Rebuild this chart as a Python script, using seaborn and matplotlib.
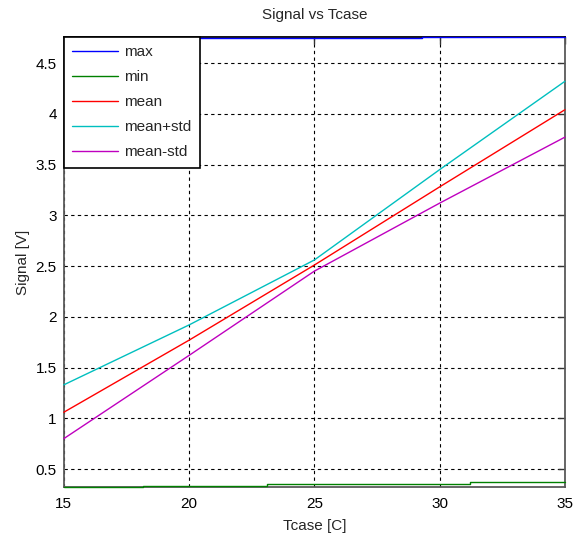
import matplotlib
matplotlib.use("Agg")
import matplotlib.pyplot as plt
import seaborn as sns
import pandas as pd
from matplotlib.ticker import FormatStrFormatter, MultipleLocator

# ---- data ----
tcase = [15, 20, 25, 30, 35]
mean_vals = [1.06, 1.77, 2.51, 3.28, 4.04]
mean_plus_std = [1.33, 1.92, 2.56, 3.45, 4.32]
mean_minus_std = [0.80, 1.62, 2.45, 3.12, 3.77]

tcase_max = [15, 29.3, 29.3, 35]
max_vals = [4.748, 4.748, 4.756, 4.756]

tcase_min = [15, 18.15, 18.15, 23.1, 23.1, 31.2, 31.2, 35]
min_vals = [0.323, 0.323, 0.329, 0.329, 0.349, 0.349, 0.369, 0.369]

series_names = ["max", "min", "mean", "mean+std", "mean-std"]
colors = ["#0000ff", "#008000", "#ff0000", "#00bfbf", "#bf00bf"]

frames = [
    pd.DataFrame({"Tcase": tcase_max, "Signal": max_vals, "series": "max"}),
    pd.DataFrame({"Tcase": tcase_min, "Signal": min_vals, "series": "min"}),
    pd.DataFrame({"Tcase": tcase, "Signal": mean_vals, "series": "mean"}),
    pd.DataFrame({"Tcase": tcase, "Signal": mean_plus_std, "series": "mean+std"}),
    pd.DataFrame({"Tcase": tcase, "Signal": mean_minus_std, "series": "mean-std"}),
]
df = pd.concat(frames, ignore_index=True)

sns.set_style("white")
plt.rcParams["font.family"] = ["Liberation Sans", "DejaVu Sans"]

fig = plt.figure(figsize=(5.8, 5.37), dpi=100)
ax = fig.add_axes([0.110, 0.093, 0.864, 0.838])

sns.lineplot(data=df, x="Tcase", y="Signal", hue="series", hue_order=series_names,
             palette=colors, sort=False, estimator=None, linewidth=1.0, ax=ax,
             zorder=3)
for ln in ax.get_lines():
    ln.set_clip_on(False)

ax.set_xlim(15, 35)
ax.set_ylim(min(min_vals), max(max_vals))
ax.xaxis.set_major_locator(MultipleLocator(5))
ax.yaxis.set_major_locator(MultipleLocator(0.5))
ax.yaxis.set_major_formatter(FormatStrFormatter("%g"))
ax.xaxis.set_major_formatter(FormatStrFormatter("%g"))

ax.grid(True, color="black", linestyle=(0, (3, 3)), linewidth=0.8)
ax.set_axisbelow(True)

for side, sp in ax.spines.items():
    sp.set_visible(True)
    sp.set_color("#5a5a5a")
    sp.set_linewidth(1.3)
ax.spines["top"].set_color("black")

ax.tick_params(direction="in", length=5, width=1, colors="#333333",
               labelsize=11, top=True, right=True, labelcolor="black", pad=5)
ax.tick_params(axis="x", pad=7)

ax.set_title("Signal vs Tcase", fontsize=11, pad=13)
ax.set_xlabel("Tcase [C]", fontsize=11, labelpad=6)
ax.set_ylabel("Signal [V]", fontsize=11, labelpad=4)

leg = ax.legend(loc="upper left", borderaxespad=0, fancybox=False, framealpha=1,
                edgecolor="black", fontsize=11, handlelength=3.0, handletextpad=0.4,
                labelspacing=0.72, borderpad=0.55)
leg.get_frame().set_linewidth(1.2)
leg.set_zorder(5)

fig.savefig("out.png", dpi=100)
